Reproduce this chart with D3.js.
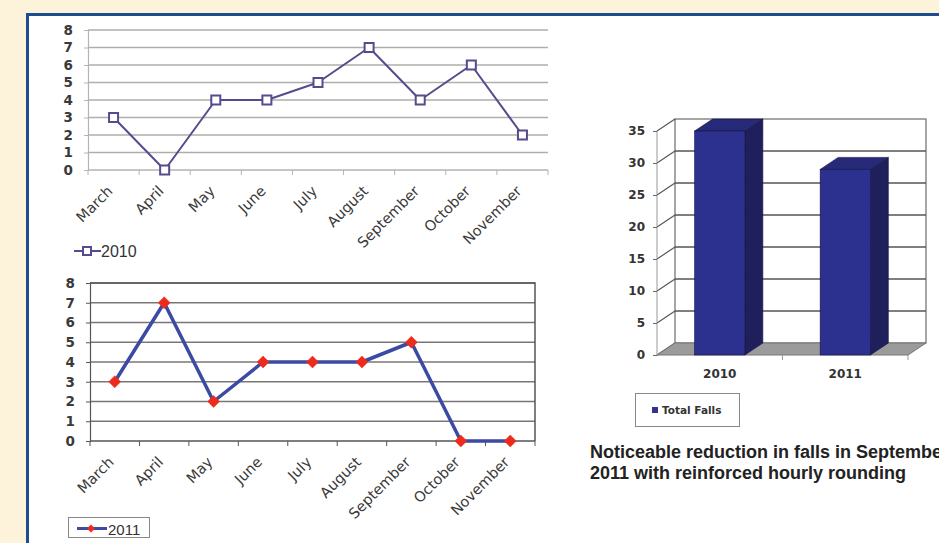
<!DOCTYPE html>
<html>
<head>
<meta charset="utf-8">
<script src="https://cdn.jsdelivr.net/npm/d3@7/dist/d3.min.js"></script>
<style>
  html, body { margin: 0; padding: 0; background: #fdf2da; overflow: hidden; }
  svg { display: block; }
</style>
</head>
<body>
<div id="chart"></div>
<script>
var months = ["March", "April", "May", "June", "July", "August", "September", "October", "November"];
var falls2010 = [3, 0, 4, 4, 5, 7, 4, 6, 2];
var falls2011 = [3, 7, 2, 4, 4, 4, 5, 0, 0];
var monthTicks = [0, 1, 2, 3, 4, 5, 6, 7, 8];
var years = ["2010", "2011"];
var totalFalls = [35, 29];
var totalTicks = [0, 5, 10, 15, 20, 25, 30, 35];
var caption = ["Noticeable reduction in falls in September", "2011 with reinforced hourly rounding"];

var W = 939, H = 543;

var svg = d3.select("#chart").append("svg")
        .attr("width", W)
        .attr("height", H);

// white panel with the blue edge
svg.append("rect")
        .attr("x", 27.5).attr("y", 14.5)
        .attr("width", W).attr("height", H)
        .attr("fill", "#fff")
        .attr("stroke", "#1d4d8f")
        .attr("stroke-width", 3);

function lineChart(opts) {
        var g = svg.append("g");
        var x = d3.scaleBand().domain(months).range([opts.x0, opts.x1]);
        var y = d3.scaleLinear().domain([0, 8]).range([opts.y0, opts.y1]);

        // grid
        g.selectAll(".grid").data(monthTicks.slice(1)).enter().append("line")
                .attr("x1", opts.x0).attr("x2", opts.x1)
                .attr("y1", (d) => y(d)).attr("y2", (d) => y(d))
                .attr("stroke", opts.grid)
                .attr("stroke-width", opts.gridW);

        // y axis
        var ya = d3.axisLeft(y).tickValues(monthTicks).tickSize(4).tickPadding(opts.pad);
        var yg = g.append("g").attr("transform", "translate(" + opts.x0 + ",0)").call(ya);
        yg.select(".domain").attr("stroke", opts.axis).attr("stroke-width", 1.2);
        yg.selectAll(".tick line").attr("stroke", opts.axis);
        yg.selectAll("text")
                .attr("font-family", "DejaVu Sans")
                .attr("font-weight", "bold")
                .attr("font-size", "13.5px")
                .attr("fill", "#3a3a3a");

        // x axis line and ticks at band edges
        g.append("line")
                .attr("x1", opts.x0).attr("x2", opts.x1)
                .attr("y1", opts.y0).attr("y2", opts.y0)
                .attr("stroke", opts.axis).attr("stroke-width", 1.5);
        var edges = months.map((m) => x(m)).concat([opts.x1]);
        g.selectAll(".xt").data(edges).enter().append("line")
                .attr("x1", (d) => d).attr("x2", (d) => d)
                .attr("y1", opts.y0).attr("y2", opts.y0 + 5)
                .attr("stroke", opts.axis);

        if (opts.frame) {
                g.append("polyline")
                        .attr("points", [[opts.x0, opts.y1], [opts.x1, opts.y1], [opts.x1, opts.y0]].join(" "))
                        .attr("fill", "none")
                        .attr("stroke", "#555")
                        .attr("stroke-width", 1.5);
        }

        g.selectAll(".ml").data(months).enter().append("text")
                .attr("transform", (d) => "translate(" + (x(d) + x.bandwidth() / 2) + "," + (opts.y0 + 22) + ") rotate(-45)")
                .attr("text-anchor", "end")
                .attr("font-family", "DejaVu Sans")
                .attr("font-size", "14.5px")
                .attr("fill", "#3a3a3a")
                .text((d) => d);

        var line = d3.line()
                .x((d, i) => x(months[i]) + x.bandwidth() / 2)
                .y((d) => y(d));

        g.append("path")
                .datum(opts.values)
                .attr("d", line)
                .attr("fill", "none")
                .attr("stroke", opts.color)
                .attr("stroke-width", opts.lineW)
                .attr("stroke-linejoin", "round");

        g.selectAll(".mk").data(opts.values).enter().append("path")
                .attr("transform", (d, i) => "translate(" + (x(months[i]) + x.bandwidth() / 2) + "," + y(d) + ")")
                .attr("d", opts.marker)
                .attr("fill", opts.markFill)
                .attr("stroke", opts.markStroke)
                .attr("stroke-width", opts.markW);
        return g;
}

var squareMark = "M-4.5,-4.5H4.5V4.5H-4.5Z";
var diamondMark = "M0,-6L6,0L0,6L-6,0Z";

lineChart({
        x0: 88, x1: 548, y0: 170, y1: 30, pad: 11,
        values: falls2010,
        grid: "#b3acaa", gridW: 1.6, axis: "#b8b2b0", frame: false,
        color: "#574b8d", lineW: 2,
        marker: squareMark, markFill: "#fff", markStroke: "#574b8d", markW: 2
});

lineChart({
        x0: 90, x1: 535, y0: 441, y1: 283, pad: 11,
        values: falls2011,
        grid: "#7a7676", gridW: 1.3, axis: "#555", frame: true,
        color: "#3b4aa3", lineW: 3.5,
        marker: diamondMark, markFill: "#ee2a1c", markStroke: "#e8321f", markW: 0.5
});

// legends of the line charts
var lg1 = svg.append("g");
lg1.append("line").attr("x1", 74).attr("x2", 101).attr("y1", 251).attr("y2", 251)
        .attr("stroke", "#574b8d").attr("stroke-width", 2);
lg1.append("path").attr("transform", "translate(87,251)").attr("d", "M-4,-4H4V4H-4Z")
        .attr("fill", "#fff").attr("stroke", "#574b8d").attr("stroke-width", 2);
lg1.append("text").attr("x", 101).attr("y", 257)
        .attr("font-family", "Liberation Sans").attr("font-size", "16px").attr("fill", "#333")
        .text(years[0]);

var lg2 = svg.append("g");
lg2.append("rect").attr("x", 68.5).attr("y", 517.5).attr("width", 81).attr("height", 20)
        .attr("fill", "#fff").attr("stroke", "#888");
lg2.append("line").attr("x1", 77).attr("x2", 107).attr("y1", 528.5).attr("y2", 528.5)
        .attr("stroke", "#3b4aa3").attr("stroke-width", 3);
lg2.append("path").attr("transform", "translate(91,528.5)").attr("d", "M0,-4L4,0L0,4L-4,0Z")
        .attr("fill", "#ee2a1c");
lg2.append("text").attr("x", 108).attr("y", 535)
        .attr("font-family", "Liberation Sans").attr("font-size", "15px").attr("fill", "#333")
        .text(years[1]);

// 3D column chart of total falls
var DX = 18, DY = -12;
var bx = d3.scaleBand().domain(years).range([657, 908]);
var by = d3.scaleLinear().domain([0, 35]).range([355, 131]);
var barW = bx.bandwidth() * 0.4;
var bg = svg.append("g");

bg.append("rect")
        .attr("x", 657 + DX).attr("y", by(35) + DY)
        .attr("width", 908 - 657).attr("height", by(0) - by(35))
        .attr("fill", "#fff").attr("stroke", "#777").attr("stroke-width", 1.3);

bg.selectAll(".bgrid").data(totalTicks.slice(1, -1)).enter().append("line")
        .attr("x1", 657 + DX).attr("x2", 908 + DX)
        .attr("y1", (d) => by(d) + DY).attr("y2", (d) => by(d) + DY)
        .attr("stroke", "#555").attr("stroke-width", 1.5);

// side wall lines
bg.selectAll(".wall").data(totalTicks).enter().append("line")
        .attr("x1", 657).attr("x2", 657 + DX)
        .attr("y1", (d) => by(d)).attr("y2", (d) => by(d) + DY)
        .attr("stroke", "#555").attr("stroke-width", 1.2);
bg.append("line").attr("x1", 657).attr("x2", 657).attr("y1", by(0)).attr("y2", by(35))
        .attr("stroke", "#999");

// floor
bg.append("polygon")
        .attr("points", [[657, by(0)], [908, by(0)], [908 + DX, by(0) + DY], [657 + DX, by(0) + DY]].join(" "))
        .attr("fill", "#9b9b9b").attr("stroke", "#777");

var byAxis = d3.axisLeft(by).tickValues(totalTicks).tickSize(4).tickPadding(8);
var byg = bg.append("g").attr("transform", "translate(657,0)").call(byAxis);
byg.select(".domain").remove();
byg.selectAll(".tick line").attr("stroke", "#666");
byg.selectAll("text")
        .attr("font-family", "DejaVu Sans").attr("font-weight", "bold")
        .attr("font-size", "12px").attr("fill", "#333");

bg.selectAll(".bxt").data([bx("2011"), 908]).enter().append("line")
        .attr("x1", (d) => d).attr("x2", (d) => d)
        .attr("y1", by(0)).attr("y2", by(0) + 5)
        .attr("stroke", "#999");

var bars = bg.selectAll(".bar").data(totalFalls).enter().append("g");
bars.append("polygon")
        .attr("points", function(d, i) {
                var x0 = bx(years[i]) + (bx.bandwidth() - barW) / 2;
                return [[x0 + barW, by(d)], [x0 + barW + DX, by(d) + DY], [x0 + barW + DX, by(0) + DY], [x0 + barW, by(0)]].join(" ");
        })
        .attr("fill", "#1f1f5c").attr("stroke", "#14143e").attr("stroke-width", 0.6);
bars.append("polygon")
        .attr("points", function(d, i) {
                var x0 = bx(years[i]) + (bx.bandwidth() - barW) / 2;
                return [[x0, by(d)], [x0 + DX, by(d) + DY], [x0 + barW + DX, by(d) + DY], [x0 + barW, by(d)]].join(" ");
        })
        .attr("fill", "#262a78").attr("stroke", "#14143e").attr("stroke-width", 0.6);
bars.append("rect")
        .attr("x", (d, i) => bx(years[i]) + (bx.bandwidth() - barW) / 2)
        .attr("y", (d) => by(d))
        .attr("width", barW)
        .attr("height", (d) => by(0) - by(d))
        .attr("fill", "#2c3190").attr("stroke", "#14143e").attr("stroke-width", 0.6);

bg.selectAll(".yl").data(years).enter().append("text")
        .attr("x", (d) => bx(d) + bx.bandwidth() / 2)
        .attr("y", 378)
        .attr("text-anchor", "middle")
        .attr("font-family", "DejaVu Sans").attr("font-weight", "bold")
        .attr("font-size", "12px").attr("fill", "#333")
        .text((d) => d);

// legend of the column chart
bg.append("rect").attr("x", 635.5).attr("y", 393.5).attr("width", 104).attr("height", 33)
        .attr("fill", "#fff").attr("stroke", "#888");
bg.append("rect").attr("x", 652).attr("y", 407).attr("width", 6).attr("height", 6)
        .attr("fill", "#33338a");
bg.append("text").attr("x", 662).attr("y", 414)
        .attr("font-family", "DejaVu Sans").attr("font-weight", "bold")
        .attr("font-size", "10.5px").attr("fill", "#333")
        .text("Total Falls");

svg.selectAll(".cap").data(caption).enter().append("text")
        .attr("x", 590)
        .attr("y", (d, i) => 458 + i * 21)
        .attr("font-family", "Liberation Sans").attr("font-weight", "bold")
        .attr("font-size", "18px").attr("fill", "#222")
        .text((d) => d);
</script>
</body>
</html>
